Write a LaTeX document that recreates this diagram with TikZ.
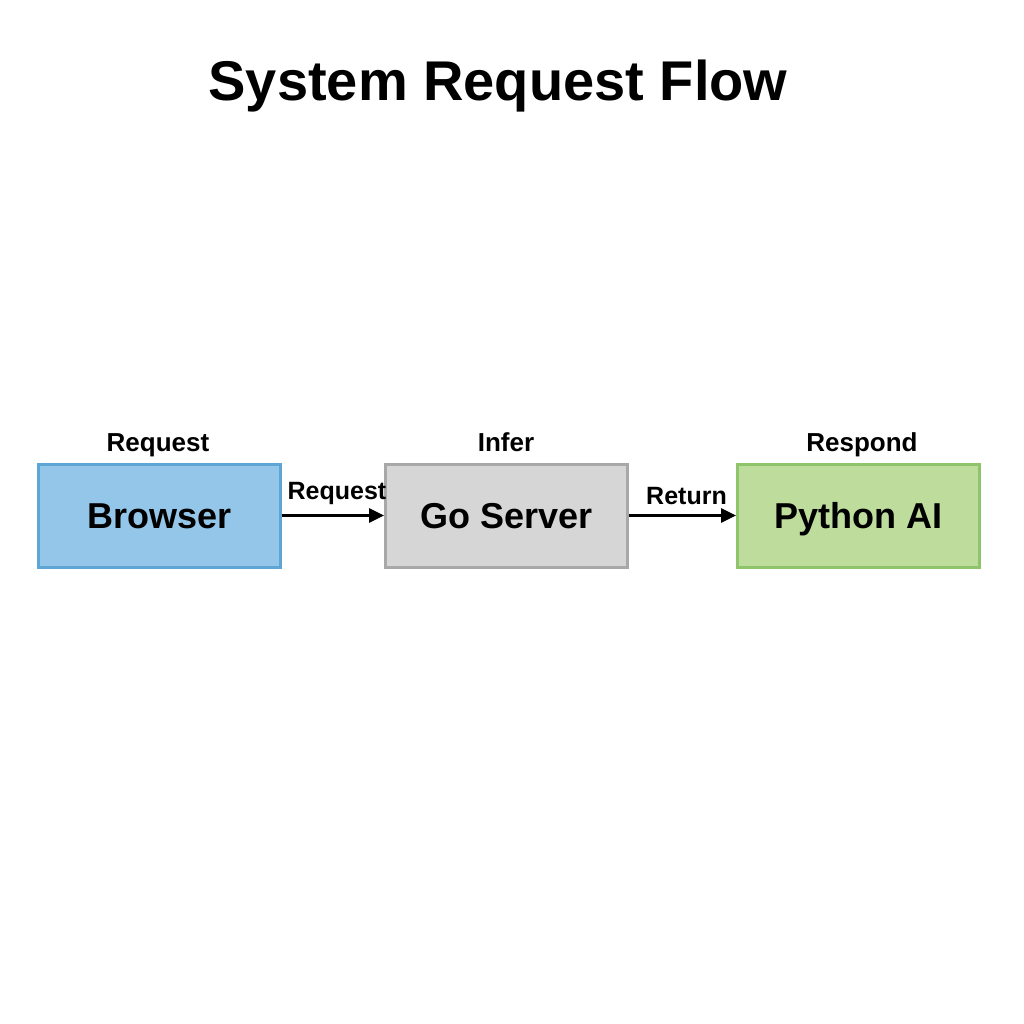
\documentclass[tikz,border=0pt]{standalone}
\usepackage{fontspec}
\setmainfont{Liberation Sans}
\usetikzlibrary{arrows.meta}
\definecolor{bfill}{HTML}{93C6E8}
\definecolor{bdraw}{HTML}{5DA5D2}
\definecolor{gfill}{HTML}{D6D6D6}
\definecolor{gdraw}{HTML}{A8A8A8}
\definecolor{pfill}{HTML}{BEDC9C}
\definecolor{pdraw}{HTML}{8EC46C}
\tikzset{
  box/.style={draw, line width=3pt, minimum width=242pt, minimum height=103pt, inner sep=0pt,
    text height=26pt, text depth=0pt,
    font=\fontsize{36}{36}\selectfont\bfseries},
  toplabel/.style={anchor=base, inner sep=0pt, font=\fontsize{26}{26}\selectfont\bfseries},
  arrlabel/.style={inner sep=0pt, font=\fontsize{25}{25}\selectfont\bfseries},
  arr/.style={line width=3pt, -{Triangle[length=15pt,width=14pt]}},
}
\begin{document}
\begin{tikzpicture}[x=1pt,y=-1pt]
\useasboundingbox[fill=white] (0,0) rectangle (1024,1024);
\node[anchor=base, inner sep=0pt, font=\fontsize{56}{56}\selectfont\bfseries] (title) at (498,101) {System Request Flow};
\node[box, fill=bfill, draw=bdraw] (b) at (159.5,515.5) {Browser};
\node[box, fill=gfill, draw=gdraw] (g) at (506.5,515.5) {Go Server};
\node[box, fill=pfill, draw=pdraw] (p) at (858.5,515.5) {Python AI};
\node[toplabel] (lb) at (158,451) {Request};
\node[toplabel] (lg) at (506,451) {Infer};
\node[toplabel] (lp) at (862,451) {Respond};
\draw[arr] (b.east) -- node[arrlabel, above=9pt, xshift=4pt] (a1) {Request} (g.west);
\draw[arr] (g.east) -- node[arrlabel, above=9pt, xshift=4pt] (a2) {Return} (p.west);
\end{tikzpicture}
\end{document}
